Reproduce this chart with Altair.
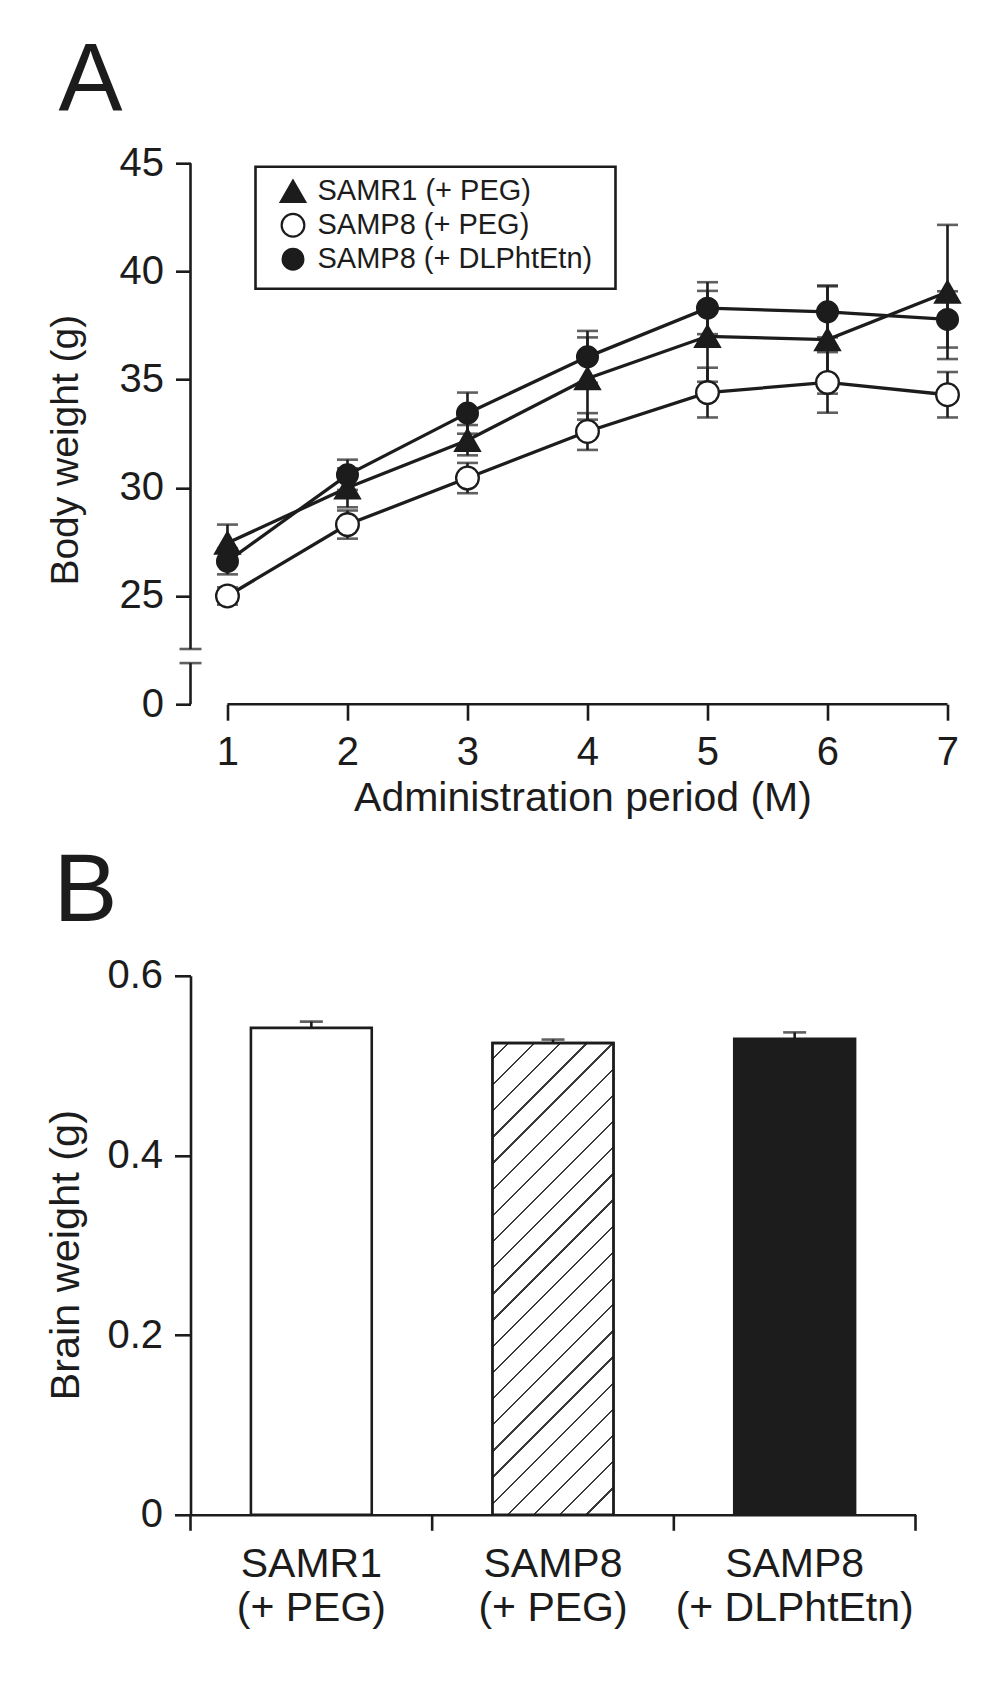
import altair as alt
import numpy as np
import pandas as pd

FONT = "Liberation Sans"
INK = "#1c1c1c"

# ---------------- data ----------------
months = [1, 2, 3, 4, 5, 6, 7]
series_names = ["SAMR1 (+ PEG)", "SAMP8 (+ PEG)", "SAMP8 (+ DLPhtEtn)"]

samr1_mean = [27.45, 30.0, 32.2, 35.05, 37.0, 36.85, 39.05]
samr1_se = [0.85, 0.9, 0.7, 1.9, 2.1, 2.5, 3.1]
samp8_peg_mean = [25.0, 28.3, 30.45, 32.6, 34.4, 34.87, 34.3]
samp8_peg_se = [0.4, 0.65, 0.7, 0.85, 1.15, 1.4, 1.05]
samp8_dl_mean = [26.6, 30.6, 33.45, 36.05, 38.3, 38.13, 37.78]
samp8_dl_se = [0.6, 0.7, 0.95, 1.2, 1.2, 1.18, 1.3]

body_ticks = [20, 25, 30, 35, 40, 45]      # 20 sits below the axis break and is labelled "0"
break_lo, break_hi = 21.9, 22.55            # axis break marks

bar_groups = ["SAMR1\n(+ PEG)", "SAMP8\n(+ PEG)", "SAMP8\n(+ DLPhtEtn)"]
brain_mean = [0.542, 0.525, 0.530]
brain_se = [0.007, 0.004, 0.007]
brain_ticks = [0, 0.2, 0.4, 0.6]

# ---------------- tables ----------------
means = [samr1_mean, samp8_peg_mean, samp8_dl_mean]
ses = [samr1_se, samp8_peg_se, samp8_dl_se]
draw_order = [1, 0, 2]          # open circles, triangles, filled circles on top
rows = []
for k in draw_order:
    for m, v, s in zip(months, means[k], ses[k]):
        rows.append({"month": m, "series": series_names[k], "value": v, "se": s})
df_body = pd.DataFrame(rows)
df_brain = pd.DataFrame({"group": bar_groups, "mean": brain_mean, "se": brain_se})
one = pd.DataFrame({"k": [0]})

# ---------------- panel A ----------------
WA, HA = 757, 541
xs_a = alt.Scale(domain=[0.692, max(months)], nice=False, zero=False)
ys_a = alt.Scale(domain=[min(body_ticks), max(body_ticks)], nice=False, zero=False)

x_axis_a = alt.Axis(
    values=months, format="d", domain=False, grid=False, labelFlush=False,
    tickSize=16, tickWidth=2.6, tickColor=INK,
    labelFontSize=40, labelPadding=12, labelColor=INK, labelFont=FONT,
    title="Administration period (M)", titleFont=FONT, titleFontSize=41,
    titleFontWeight="normal", titleColor=INK, titleX=392, titleY=106,
    titleBaseline="alphabetic", titleAlign="center",
)
y_axis_a = alt.Axis(
    values=body_ticks, labelExpr="datum.value == 20 ? '0' : datum.label",
    domain=False, grid=False, tickSize=15, tickWidth=2.6, tickColor=INK,
    labelFontSize=40, labelPadding=12, labelColor=INK, labelFont=FONT,
    title="Body weight (g)", titleFont=FONT, titleFontSize=39,
    titleFontWeight="normal", titleColor=INK, titleAngle=-90,
    titleX=-125, titleY=286.5, titleBaseline="middle", titleAlign="center",
)


def XA(field):
    return alt.X(field, scale=xs_a, axis=x_axis_a)


def YA(field):
    return alt.Y(field, scale=ys_a, axis=y_axis_a)


legend_a = alt.Legend(
    orient="none", legendX=88, legendY=13.5, title=None,
    labelFontSize=29, labelFont=FONT, labelColor=INK, labelLimit=600,
    symbolStrokeWidth=2.2, symbolStrokeColor=INK, symbolOpacity=1,
    rowPadding=2, labelOffset=10, padding=0,
)

legend_box = alt.Chart(one).mark_rect(fill="white", stroke=INK, strokeWidth=2.6).encode(
    x=alt.value(65), x2=alt.value(425), y=alt.value(3.5), y2=alt.value(125.5))

df_yline = pd.DataFrame({"top": [max(body_ticks), break_lo], "bottom": [break_hi, min(body_ticks)]})
y_line = alt.Chart(df_yline).mark_rule(color=INK, strokeWidth=2.6).encode(
    x=alt.value(0), y=YA("top:Q"), y2="bottom:Q")
y_break = alt.Chart(pd.DataFrame({"b": [break_lo, break_hi]})).mark_tick(
    orient="horizontal", size=22, thickness=2.6, color=INK).encode(
    x=alt.value(0), y=YA("b:Q"))
x_line = alt.Chart(pd.DataFrame({"a": [min(months)], "b": [max(months)], "y": [min(body_ticks)]})).mark_rule(
    color=INK, strokeWidth=2.6).encode(x=XA("a:Q"), x2="b:Q", y=YA("y:Q"))

base_a = alt.Chart(df_body)
lines = base_a.mark_line(color=INK, strokeWidth=3.3).encode(
    x=XA("month:Q"), y=YA("value:Q"), detail="series:N", order="month:Q")
err_a = base_a.transform_calculate(
    lo="datum.value - datum.se", hi="datum.value + datum.se").mark_rule(
    color=INK, strokeWidth=2.6).encode(x=XA("month:Q"), y=YA("lo:Q"), y2="hi:Q")
caps_a = base_a.transform_calculate(
    lo="datum.value - datum.se", hi="datum.value + datum.se").transform_fold(
    ["lo", "hi"], as_=["end", "yv"]).mark_tick(
    orient="horizontal", size=21, thickness=2.6, color=INK).encode(
    x=XA("month:Q"), y=YA("yv:Q"))

points = base_a.mark_point(opacity=1, strokeWidth=2.3).encode(
    x=XA("month:Q"), y=YA("value:Q"),
    shape=alt.Shape("series:N", scale=alt.Scale(domain=series_names,
                    range=["triangle-up", "circle", "circle"]), legend=legend_a),
    fill=alt.Fill("series:N", scale=alt.Scale(domain=series_names,
                  range=[INK, "white", INK]), legend=legend_a),
    stroke=alt.Stroke("series:N", scale=alt.Scale(domain=series_names,
                      range=[INK, INK, INK]), legend=legend_a),
    size=alt.Size("series:N", scale=alt.Scale(domain=series_names,
                  range=[600, 430, 590]), legend=legend_a),
)

label_a = alt.Chart(one).mark_text(text="A", fontSize=96, font=FONT, align="left",
                                   baseline="alphabetic", color=INK).encode(
    x=alt.value(-132), y=alt.value(-53.5))

panel_a = alt.layer(legend_box, y_line, y_break, x_line, lines, err_a, caps_a,
                    points, label_a).properties(width=WA, height=HA)

# ---------------- panel B ----------------
WB, HB = 725, 539
p_inner, p_outer = 0.5, 0.25
xs_b = alt.Scale(domain=bar_groups, paddingInner=p_inner, paddingOuter=p_outer)
ys_b = alt.Scale(domain=[min(brain_ticks), max(brain_ticks)], nice=False)

x_axis_b = alt.Axis(
    title=None, labelExpr="split(datum.label, '\\n')", labelAngle=0,
    ticks=False, tickSize=0, labelPadding=30, labelFontSize=41, labelLimit=600,
    labelLineHeight=44, labelColor=INK, labelFont=FONT,
    domainColor=INK, domainWidth=2.6, grid=False)
y_axis_b = alt.Axis(
    values=brain_ticks,
    labelExpr="datum.value == 0 ? '0' : format(datum.value, '.1f')",
    tickSize=16, tickWidth=2.6, tickColor=INK, domainColor=INK, domainWidth=2.6,
    labelFontSize=40, labelPadding=12, labelColor=INK, labelFont=FONT, grid=False,
    title="Brain weight (g)", titleFont=FONT, titleFontSize=41.5,
    titleFontWeight="normal", titleColor=INK, titleAngle=-90,
    titleX=-124, titleY=279, titleBaseline="middle", titleAlign="center")


def XB():
    return alt.X("group:N", scale=xs_b, axis=x_axis_b, sort=None)


def YB(field):
    return alt.Y(field, scale=ys_b, axis=y_axis_b)


def hatch_gradient(w, h, period=18.5, line=1.6, ink="#3a3a3a"):
    c = (w + h) / (w * w + h * h)
    span = (w + h) / np.sqrt(2.0)
    d = period / span
    half = (line / 2.0) / span
    stops = [{"offset": 0, "color": "white"}]
    t = d * 0.6
    while t + half < 1:
        a, b = round(t - half, 5), round(t + half, 5)
        stops += [{"offset": a, "color": "white"}, {"offset": a, "color": ink},
                  {"offset": b, "color": ink}, {"offset": b, "color": "white"}]
        t += d
    stops.append({"offset": 1, "color": "white"})
    return {"gradient": "linear", "x1": 0, "y1": 0,
            "x2": round(w * c, 5), "y2": round(h * c, 5), "stops": stops}


n_groups = len(bar_groups)
bar_w = WB / (n_groups - p_inner + 2 * p_outer) * (1 - p_inner)
bar_h = brain_mean[1] / max(brain_ticks) * HB
hatch_fill = hatch_gradient(bar_w, bar_h)

base_b = alt.Chart(df_brain)
err_b = base_b.transform_calculate(
    lo="datum.mean - datum.se", hi="datum.mean + datum.se").mark_rule(
    color=INK, strokeWidth=2.6).encode(x=XB(), y=YB("lo:Q"), y2="hi:Q")
bars = base_b.mark_bar(stroke=INK, strokeWidth=2.6).encode(
    x=XB(), y=YB("mean:Q"),
    fill=alt.condition(alt.FieldEqualPredicate(field="group", equal=bar_groups[2]),
                       alt.value(INK), alt.value("white")))
hatch = base_b.transform_filter(
    alt.FieldEqualPredicate(field="group", equal=bar_groups[1])).mark_bar(
    fill=hatch_fill, stroke=INK, strokeWidth=2.6).encode(x=XB(), y=YB("mean:Q"))
cap_b = base_b.transform_calculate(hi="datum.mean + datum.se").mark_tick(
    orient="horizontal", size=23, thickness=2.6, color=INK).encode(
    x=XB(), y=YB("hi:Q"))
label_b = alt.Chart(one).mark_text(text="B", fontSize=96, font=FONT, align="left",
                                   baseline="alphabetic", color=INK).encode(
    x=alt.value(-137), y=alt.value(-55))

ticks_b = alt.Chart(pd.DataFrame({"edge": list(range(n_groups + 1))})).mark_rule(
    color=INK, strokeWidth=2.6).encode(
    x=alt.X("edge:Q", scale=alt.Scale(domain=[0, n_groups], nice=False, zero=False), axis=None),
    y=alt.value(HB), y2=alt.value(HB + 16))

panel_b = alt.layer(
    alt.layer(err_b, bars, hatch, cap_b, label_b), ticks_b
).resolve_scale(x="independent").properties(width=WB, height=HB)

chart = (
    alt.vconcat(panel_a, panel_b, spacing=25.6)
    .properties(padding={"left": 37.5, "top": 24.2, "right": 5, "bottom": 5})
    .configure(font=FONT, background="white")
    .configure_view(stroke=None)
)

chart.save("out.html", embed_options={"renderer": "svg", "actions": False})
